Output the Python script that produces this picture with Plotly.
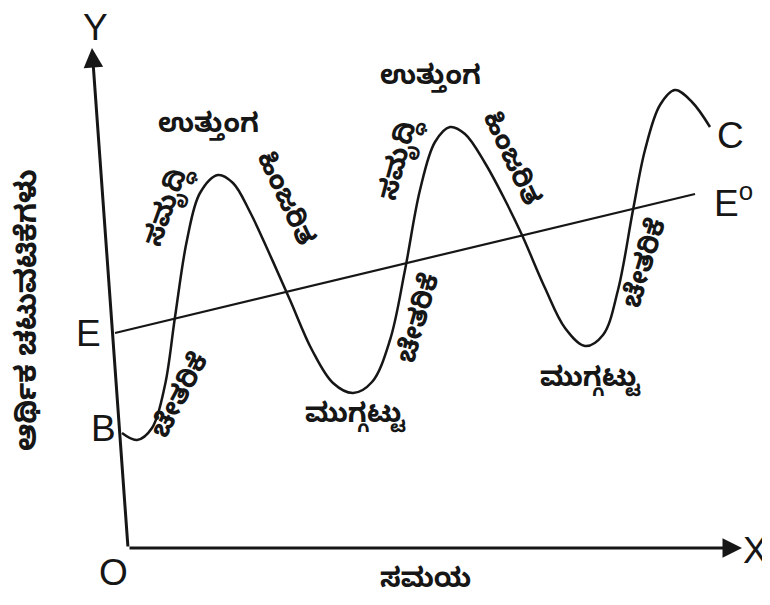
import plotly.graph_objects as go

# business cycle curve (time, level of economic activity)
cycle_time = [122, 137, 152, 165, 175, 187, 200, 218, 233, 250, 270, 290, 312, 333, 353,
              372, 390, 405, 420, 435, 450, 465, 485, 505, 522, 545, 565, 585, 603, 618,
              633, 645, 660, 675, 692, 710]
cycle_level = [172, 165, 177, 220, 288, 365, 412, 430, 422, 393, 350, 305, 255, 222, 212,
               223, 265, 335, 415, 463, 478, 471, 442, 405, 370, 317, 277, 259, 270, 315,
               395, 455, 500, 515, 503, 478]

# trend line E -> E°
trend_time = [115, 695]
trend_level = [272, 411]

# axes (origin, Y tip, X tip)
origin = (128, 57)
y_tip = (92, 557)
x_tip = (742, 57)

# phase labels: text, x, y, angle
phase_labels = [
    ("ಉತ್ತುಂಗ", 208, 477, 0),
    ("ಉತ್ತುಂಗ", 430, 525, 0),
    ("ಸಮೃದ್ಧಿ", 170, 398, -70),
    ("ಸಮೃದ್ಧಿ", 402, 445, -75),
    ("ಹಿಂಜರಿತ", 282, 405, 65),
    ("ಹಿಂಜರಿತ", 508, 445, 65),
    ("ಚೇತರಿಕೆ", 183, 207, -62),
    ("ಚೇತರಿಕೆ", 422, 285, -74),
    ("ಚೇತರಿಕೆ", 648, 340, -73),
    ("ಮುಗ್ಗಟ್ಟು", 355, 187, 0),
    ("ಮುಗ್ಗಟ್ಟು", 590, 223, 0),
]

# point labels
point_labels = [("Y", 95, 578), ("X", 755, 55), ("O", 113, 33), ("E", 88, 272),
                ("B", 103, 177), ("C", 730, 470), ("E<sup>o</sup>", 733, 405)]

ink = "#161616"
kfont = "Noto Sans Kannada, Noto Sans, sans-serif"
lfont = "Liberation Sans, Arial, sans-serif"

fig = go.Figure()

fig.add_trace(go.Scatter(x=cycle_time, y=cycle_level, mode="lines",
                         line=dict(color=ink, width=2.5, shape="spline", smoothing=1.0),
                         hoverinfo="skip"))
fig.add_trace(go.Scatter(x=trend_time, y=trend_level, mode="lines",
                         line=dict(color=ink, width=2.2), hoverinfo="skip"))

# axis arrows
for tip in (y_tip, x_tip):
    fig.add_annotation(x=tip[0], y=tip[1], ax=origin[0], ay=origin[1],
                       xref="x", yref="y", axref="x", ayref="y", text="",
                       showarrow=True, arrowhead=2, arrowsize=1.3, arrowwidth=3,
                       arrowcolor=ink)

for txt, x, y, ang in phase_labels:
    fig.add_annotation(x=x, y=y, text="<b>" + txt + "</b>", showarrow=False, textangle=ang,
                       font=dict(family=kfont, size=27, color=ink))

for txt, x, y in point_labels:
    fig.add_annotation(x=x, y=y, text=txt, showarrow=False,
                       font=dict(family=lfont, size=37, color=ink))

# axis titles
fig.add_annotation(x=425, y=22, text="<b>ಸಮಯ</b>", showarrow=False,
                   font=dict(family=kfont, size=27, color=ink))
fig.add_annotation(x=32, y=295, text="<b>ಆರ್ಥಿಕ ಚಟುವಟಿಕೆಗಳು</b>", showarrow=False,
                   textangle=-90, font=dict(family=kfont, size=29, color=ink))

# the page body has an 8px margin, so the canvas starts at (8, 8)
fig.update_layout(
    width=762, height=597,
    margin=dict(l=0, r=0, t=0, b=0),
    paper_bgcolor="white", plot_bgcolor="white",
    showlegend=False,
    xaxis=dict(range=[8, 770], visible=False, fixedrange=True),
    yaxis=dict(range=[0, 597], visible=False, fixedrange=True),
)

fig.write_html("out.html")
